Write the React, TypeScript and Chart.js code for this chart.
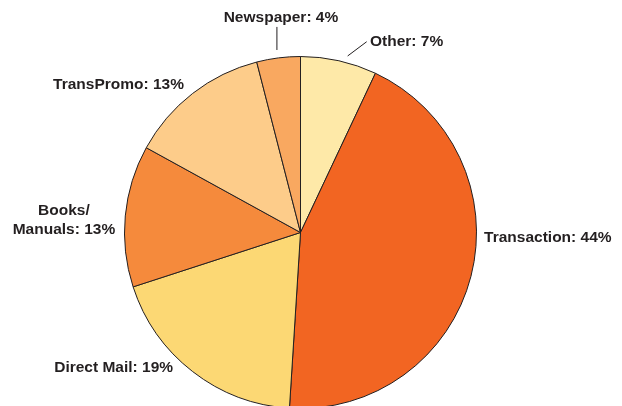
import React, { useEffect, useRef } from "react";
import { Chart, registerables } from "chart.js";

Chart.register(...registerables);

const categories = ["Other", "Transaction", "Direct Mail", "Books/Manuals", "TransPromo", "Newspaper"];
const shares = [7, 44, 19, 13, 13, 4];
const labelLines = [["Other: 7%"], ["Transaction: 44%"], ["Direct Mail: 19%"], ["Books/", "Manuals: 13%"], ["TransPromo: 13%"], ["Newspaper: 4%"]];
const sliceColors = ["#FEE9A8", "#F26522", "#FCD874", "#F58A3C", "#FDCC8A", "#F9A860"];

// label anchors relative to pie centre, in units of radius
const labelPlacement = [
  { fx: 0.395, fy: -1.082, align: "left" },
  { fx: 1.043, fy: 0.028, align: "left" },
  { fx: -0.724, fy: 0.77, align: "right" },
  { fx: -1.344, fy: -0.071, align: "center" },
  { fx: -0.662, fy: -0.838, align: "right" },
  { fx: -0.111, fy: -1.219, align: "center" },
];
const leaderLines: (number[] | null)[] = [
  [0.268, -1.003, 0.376, -1.084],
  null,
  null,
  null,
  null,
  [-0.134, -1.037, -0.134, -1.168],
];

const labelPlugin = {
  id: "pieLabels",
  afterDraw(chart: any) {
    const meta = chart.getDatasetMeta(0);
    const arc = meta.data[0];
    if (!arc) return;
    const cx = arc.x;
    const cy = arc.y;
    const R = arc.outerRadius;
    const ctx = chart.ctx;
    ctx.save();
    ctx.strokeStyle = "#231F20";
    ctx.lineWidth = 1;
    leaderLines.forEach((l) => {
      if (!l) return;
      ctx.beginPath();
      ctx.moveTo(cx + l[0] * R, cy + l[1] * R);
      ctx.lineTo(cx + l[2] * R, cy + l[3] * R);
      ctx.stroke();
    });
    ctx.fillStyle = "#231F20";
    ctx.font = "bold 15.5px 'Liberation Sans', Arial, sans-serif";
    ctx.textBaseline = "middle";
    labelLines.forEach((lines, i) => {
      const p = labelPlacement[i];
      const x = cx + p.fx * R;
      const y0 = cy + p.fy * R - ((lines.length - 1) * 19) / 2;
      ctx.textAlign = p.align;
      lines.forEach((t, j) => ctx.fillText(t, x, y0 + j * 19));
    });
    ctx.restore();
  },
};

export default function App() {
  const ref = useRef<HTMLCanvasElement | null>(null);
  useEffect(() => {
    if (!ref.current) return;
    const chart = new Chart(ref.current, {
      type: "pie",
      data: {
        labels: categories,
        datasets: [
          {
            data: shares,
            backgroundColor: sliceColors,
            borderColor: "#231F20",
            borderWidth: 1,
          },
        ],
      },
      options: {
        responsive: false,
        animation: false,
        layout: { padding: { left: 124, right: 145, top: 56, bottom: 21 } },
        plugins: { legend: { display: false }, tooltip: { enabled: false } },
      },
      plugins: [labelPlugin],
    });
    return () => chart.destroy();
  }, []);
  return (
    <div style={{ position: "fixed", left: 0, top: 0, width: 622, height: 430, background: "#fff" }}>
      <canvas ref={ref} width={622} height={430} style={{ width: 622, height: 430 }} />
    </div>
  );
}
